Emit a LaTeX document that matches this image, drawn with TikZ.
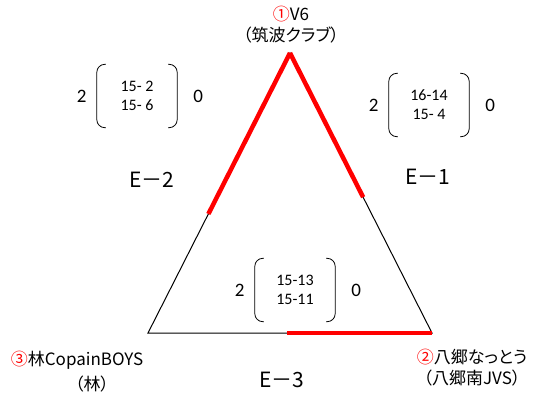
\documentclass[tikz,border=0pt]{standalone}
\usepackage{fontspec}
\setmainfont{Carlito}
\newfontfamily\jpfont[RawFeature=+palt]{Noto Sans CJK JP}
\usetikzlibrary{calc,positioning}

\begin{document}
\begin{tikzpicture}[x=1pt, y=1pt,
    team/.style={font=\jpfont\fontsize{17}{21}\selectfont, align=center, inner sep=0pt},
    pool/.style={font=\jpfont\fontsize{21}{21}\selectfont, inner sep=0pt},
    scorebox/.style={minimum width=80pt, minimum height=63pt, inner sep=0pt, align=center, font=\fontsize{16}{19}\selectfont},
    side/.style={font=\fontsize{19}{19}\selectfont, inner sep=0pt},
    edge/.style={black, line width=1pt},
    won/.style={red, line width=4.5pt},
    paren/.style={line width=0.8pt, rounded corners=8pt}
]
    \useasboundingbox (0,0) rectangle (536,397);

    % triangle of the pool
    \coordinate (top) at (290,344);
    \coordinate (left) at (148,64);
    \coordinate (right) at (432,64);
    \draw[edge] (top) -- (left) -- (right) -- cycle;

    % winning halves in red
    \draw[won] (top) -- ($(top)!0.575!(left)$);
    \draw[won] (top) -- ($(top)!0.515!(right)$);
    \draw[won] ($(left)!0.49!(right)$) -- (right);

    % teams
    \node[team] (t1) at (291,372) {\textcolor{red}{①}V6\\（筑波クラブ）};
    \node[team] (t2) at (472,29) {\textcolor{red}{②}八郷なっとう\\（八郷南JVS）};
    \node[team] (t3) at (77,37) {\textcolor{red}{③}林CopainBOYS};
    \node[team] (t3b) at (92,13) {（林）};

    % match labels
    \node[pool] (e1) at (428,220) {E－1};
    \node[pool] (e2) at (152,217) {E－2};
    \node[pool] (e3) at (282,17) {E－3};

    % set scores
    \node[scorebox] (s1) at (429,292) {16-14\\15- 4};
    \node[scorebox] (s2) at (137,301) {15- 2\\15- 6};
    \node[scorebox] (s3) at (295,107) {15-13\\15-11};
    \foreach \b in {s1,s2,s3} {
        \draw[paren] ([xshift=9pt]\b.north west) -- (\b.north west) -- (\b.south west) -- ([xshift=9pt]\b.south west);
        \draw[paren] ([xshift=-9pt]\b.north east) -- (\b.north east) -- (\b.south east) -- ([xshift=-9pt]\b.south east);
        \node[side, left=10pt of \b] (\b l) {2};
        \node[side, right=16pt of \b] (\b r) {0};
    }
\end{tikzpicture}
\end{document}
